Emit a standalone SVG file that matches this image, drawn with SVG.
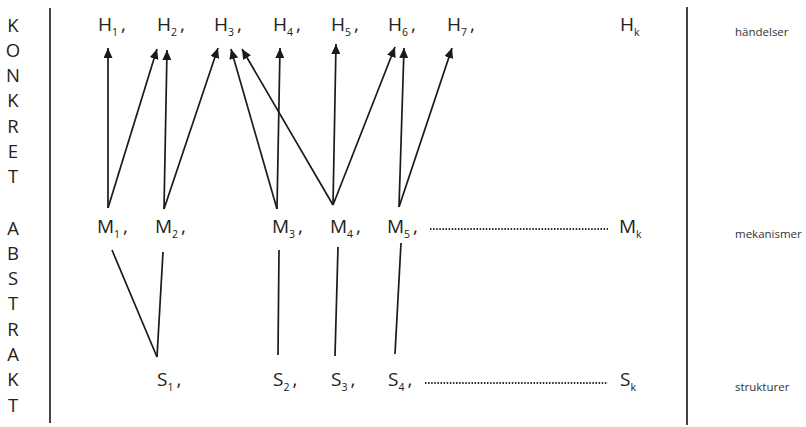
<svg xmlns="http://www.w3.org/2000/svg" width="806" height="427" viewBox="0 0 806 427">
<defs>
<style>
.lbl{font-family:"Open Sans","Liberation Sans",sans-serif;font-size:19px;fill:#222}
.sub{font-size:10.5px}
.side{font-family:"Open Sans","Liberation Sans",sans-serif;font-size:18.5px;fill:#222;text-anchor:middle}
.cat{font-family:"Open Sans","Liberation Sans",sans-serif;font-size:11.5px;fill:#333}
.ln{stroke:#1a1a1a;stroke-width:1.7;fill:none}
.arr{stroke:#1a1a1a;stroke-width:1.7;fill:none;marker-end:url(#ah)}
.dot{stroke:#2a2a2a;stroke-width:2;stroke-dasharray:1.5 1.6;fill:none}
.bar{stroke:#444;stroke-width:2}
</style>
<marker id="ah" markerUnits="userSpaceOnUse" markerWidth="11" markerHeight="9" refX="10" refY="4.5" orient="auto">
<path d="M0,0 L10,4.5 L0,9 z" fill="#1a1a1a"/>
</marker>
</defs>
<rect width="806" height="427" fill="#fff"/>
<g id="frame">
<line class="bar" x1="50" y1="8" x2="50" y2="423"/>
<line class="bar" x1="687" y1="7" x2="687" y2="425"/>
</g>
<g id="side-konkret">
<text class="side" x="13" y="31.5">K</text>
<text class="side" x="13" y="56.8">O</text>
<text class="side" x="13" y="82.1">N</text>
<text class="side" x="13" y="107.4">K</text>
<text class="side" x="13" y="132.7">R</text>
<text class="side" x="13" y="158">E</text>
<text class="side" x="13" y="183.3">T</text>
</g>
<g id="side-abstrakt">
<text class="side" x="13" y="234.5">A</text>
<text class="side" x="13" y="259.8">B</text>
<text class="side" x="13" y="285.1">S</text>
<text class="side" x="13" y="310.4">T</text>
<text class="side" x="13" y="335.7">R</text>
<text class="side" x="13" y="361">A</text>
<text class="side" x="13" y="386.3">K</text>
<text class="side" x="13" y="411.6">T</text>
</g>
<g id="H1"><text class="lbl" x="98" y="31">H<tspan class="sub" dy="5">1</tspan><tspan dx="3" dy="-5">,</tspan></text></g>
<g id="H2"><text class="lbl" x="157" y="31">H<tspan class="sub" dy="5">2</tspan><tspan dx="3" dy="-5">,</tspan></text></g>
<g id="H3"><text class="lbl" x="214" y="31">H<tspan class="sub" dy="5">3</tspan><tspan dx="3" dy="-5">,</tspan></text></g>
<g id="H4"><text class="lbl" x="273" y="31">H<tspan class="sub" dy="5">4</tspan><tspan dx="3" dy="-5">,</tspan></text></g>
<g id="H5"><text class="lbl" x="331" y="31">H<tspan class="sub" dy="5">5</tspan><tspan dx="3" dy="-5">,</tspan></text></g>
<g id="H6"><text class="lbl" x="388" y="31">H<tspan class="sub" dy="5">6</tspan><tspan dx="3" dy="-5">,</tspan></text></g>
<g id="H7"><text class="lbl" x="447" y="31">H<tspan class="sub" dy="5">7</tspan><tspan dx="3" dy="-5">,</tspan></text></g>
<g id="Hk"><text class="lbl" x="620" y="31">H<tspan class="sub" dy="5">k</tspan></text></g>
<g id="M1"><text class="lbl" x="97" y="233">M<tspan class="sub" dy="5">1</tspan><tspan dx="3" dy="-5">,</tspan></text></g>
<g id="M2"><text class="lbl" x="155" y="233">M<tspan class="sub" dy="5">2</tspan><tspan dx="3" dy="-5">,</tspan></text></g>
<g id="M3"><text class="lbl" x="272" y="233">M<tspan class="sub" dy="5">3</tspan><tspan dx="3" dy="-5">,</tspan></text></g>
<g id="M4"><text class="lbl" x="330" y="233">M<tspan class="sub" dy="5">4</tspan><tspan dx="3" dy="-5">,</tspan></text></g>
<g id="M5"><text class="lbl" x="387" y="233">M<tspan class="sub" dy="5">5</tspan><tspan dx="3" dy="-5">,</tspan></text></g>
<g id="Mk"><text class="lbl" x="619" y="233">M<tspan class="sub" dy="5">k</tspan></text></g>
<g id="S1"><text class="lbl" x="157" y="386">S<tspan class="sub" dy="5">1</tspan><tspan dx="3" dy="-5">,</tspan></text></g>
<g id="S2"><text class="lbl" x="273" y="386">S<tspan class="sub" dy="5">2</tspan><tspan dx="3" dy="-5">,</tspan></text></g>
<g id="S3"><text class="lbl" x="331" y="386">S<tspan class="sub" dy="5">3</tspan><tspan dx="3" dy="-5">,</tspan></text></g>
<g id="S4"><text class="lbl" x="388" y="386">S<tspan class="sub" dy="5">4</tspan><tspan dx="3" dy="-5">,</tspan></text></g>
<g id="Sk"><text class="lbl" x="620" y="386">S<tspan class="sub" dy="5">k</tspan></text></g>
<g id="categories">
<text class="cat" x="735" y="36">händelser</text>
<text class="cat" x="735" y="238">mekanismer</text>
<text class="cat" x="735" y="391">strukturer</text>
</g>
<g id="connectors">
<line class="arr" x1="108" y1="208" x2="108" y2="48"/>
<line class="arr" x1="108" y1="208" x2="157" y2="49"/>
<line class="arr" x1="164" y1="209" x2="167" y2="50"/>
<line class="arr" x1="164" y1="209" x2="218" y2="48"/>
<line class="arr" x1="277" y1="209" x2="231" y2="49"/>
<line class="arr" x1="277" y1="209" x2="280" y2="48"/>
<line class="arr" x1="333" y1="205" x2="242" y2="49"/>
<line class="arr" x1="333" y1="205" x2="336" y2="44"/>
<line class="arr" x1="333" y1="205" x2="395" y2="47"/>
<line class="arr" x1="399" y1="207" x2="404" y2="48"/>
<line class="arr" x1="399" y1="207" x2="452" y2="48"/>
<line class="ln" x1="112" y1="250" x2="157" y2="357"/>
<line class="ln" x1="163" y1="252" x2="157" y2="357"/>
<line class="ln" x1="279" y1="250" x2="278" y2="355"/>
<line class="ln" x1="338" y1="247" x2="335" y2="356"/>
<line class="ln" x1="401" y1="243" x2="395" y2="354"/>
<line class="dot" x1="430" y1="229" x2="608" y2="229"/>
<line class="dot" x1="425" y1="383" x2="608" y2="383"/>
</g>
</svg>
